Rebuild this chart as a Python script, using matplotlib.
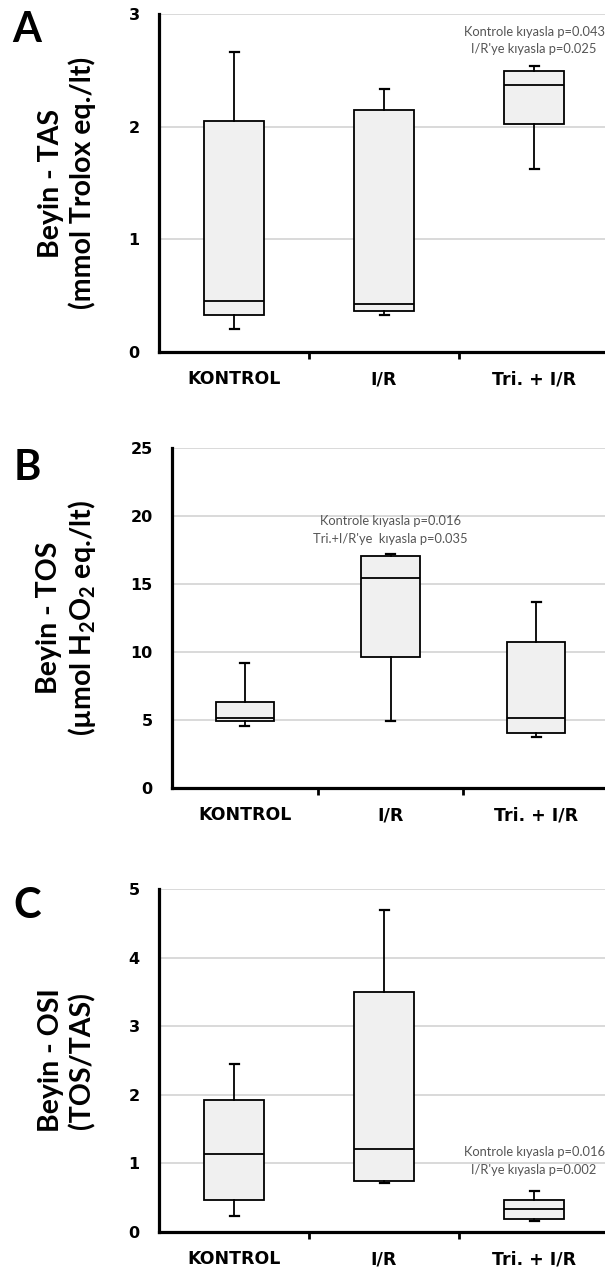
import matplotlib
matplotlib.use("Agg")
import matplotlib.pyplot as plt

plt.rcParams["mathtext.default"] = "regular"

groups = ["KONTROL", "I/R", "Tri. + I/R"]

# box statistics (whisker low, Q1, median, Q3, whisker high)
tas_low = [0.20, 0.33, 1.62]
tas_q1 = [0.33, 0.36, 2.02]
tas_med = [0.45, 0.43, 2.37]
tas_q3 = [2.05, 2.15, 2.49]
tas_high = [2.66, 2.33, 2.54]

tos_low = [4.57, 4.94, 3.76]
tos_q1 = [4.91, 9.65, 4.08]
tos_med = [5.16, 15.42, 5.16]
tos_q3 = [6.34, 17.09, 10.71]
tos_high = [9.16, 17.19, 13.68]

osi_low = [0.23, 0.72, 0.16]
osi_q1 = [0.46, 0.745, 0.185]
osi_med = [1.14, 1.21, 0.33]
osi_q3 = [1.93, 3.50, 0.46]
osi_high = [2.45, 4.70, 0.60]

tas_notes = ["Kontrole kıyasla p=0.043", "I/R'ye kıyasla p=0.025"]
tos_notes = ["Kontrole kıyasla p=0.016", "Tri.+I/R'ye  kıyasla p=0.035"]
osi_notes = ["Kontrole kıyasla p=0.016", "I/R'ye kıyasla p=0.002"]

W, H = 605, 1270


def make_stats(low, q1, med, q3, high):
    return [dict(whislo=a, q1=b, med=c, q3=d, whishi=e, fliers=[])
            for a, b, c, d, e in zip(low, q1, med, q3, high)]


def draw_panel(fig, rect_px, letter, ylabel, stats, ymax, ystep,
               notes, note_group, note_y):
    left, top, right, bottom = rect_px
    ax = fig.add_axes([left / W, 1 - bottom / H, (right - left) / W, (bottom - top) / H])
    pos = [0.5, 1.5, 2.5]
    ax.bxp(stats, positions=pos, widths=0.4, patch_artist=True,
           showfliers=False, capwidths=0.06,
           boxprops=dict(facecolor="#f0f0f0", edgecolor="black", linewidth=1.3),
           medianprops=dict(color="black", linewidth=1.3),
           whiskerprops=dict(color="black", linewidth=1.3),
           capprops=dict(color="black", linewidth=1.6))
    ax.set_xlim(0, 3)
    ax.set_ylim(0, ymax)
    ax.set_yticks(range(0, ymax + 1, ystep))
    ax.set_axisbelow(True)
    ax.yaxis.grid(True, color="#cfcfcf", linewidth=1.1)
    for s in ["top", "right"]:
        ax.spines[s].set_visible(False)
    for s in ["left", "bottom"]:
        ax.spines[s].set_linewidth(2.3)
    ax.set_xticks(pos)
    ax.set_xticklabels(groups, fontsize=12.5, fontweight="bold")
    ax.set_xticks([1, 2], minor=True)
    ax.tick_params(axis="x", which="major", length=0, pad=13)
    ax.tick_params(axis="x", which="minor", length=5, width=2)
    ax.tick_params(axis="y", length=0, pad=14, labelsize=11.5)
    for t in ax.get_yticklabels():
        t.set_fontweight("bold")
    ax.patch.set_alpha(0)

    cy = 1 - (top + bottom) / 2 / H
    fig.text(67 / W, cy, ylabel, rotation=90, ha="center", va="center",
             multialignment="center", fontsize=20.5, fontweight="bold",
             family=["Lato", "DejaVu Sans"], linespacing=1.2)
    fig.text(27 / W, 1 - letter[1] / H, letter[0], ha="center", va="center",
             fontsize=30, fontweight="bold", family=["Lato", "DejaVu Sans"])
    for txt, y in zip(notes, note_y):
        ax.text(pos[note_group], y, txt, ha="center", va="center",
                fontsize=9.3, color="#555555", family=["Lato", "DejaVu Sans"])
    return ax


fig = plt.figure(figsize=(W / 100, H / 100), dpi=100)

draw_panel(fig, (159, 14, 609, 352), ("A", 30),
           "Beyin - TAS\n(mmol Trolox eq./lt)",
           make_stats(tas_low, tas_q1, tas_med, tas_q3, tas_high),
           3, 1, tas_notes, 2, [2.84, 2.69])

draw_panel(fig, (172, 448, 609, 788), ("B", 468),
           "Beyin - TOS\n(µmol H$_2$O$_2$ eq./lt)",
           make_stats(tos_low, tos_q1, tos_med, tos_q3, tos_high),
           25, 5, tos_notes, 1, [19.6, 18.3])

draw_panel(fig, (159, 889, 609, 1232), ("C", 906),
           "Beyin - OSI\n(TOS/TAS)",
           make_stats(osi_low, osi_q1, osi_med, osi_q3, osi_high),
           5, 1, osi_notes, 2, [1.16, 0.90])

fig.savefig("out.png", dpi=100)
